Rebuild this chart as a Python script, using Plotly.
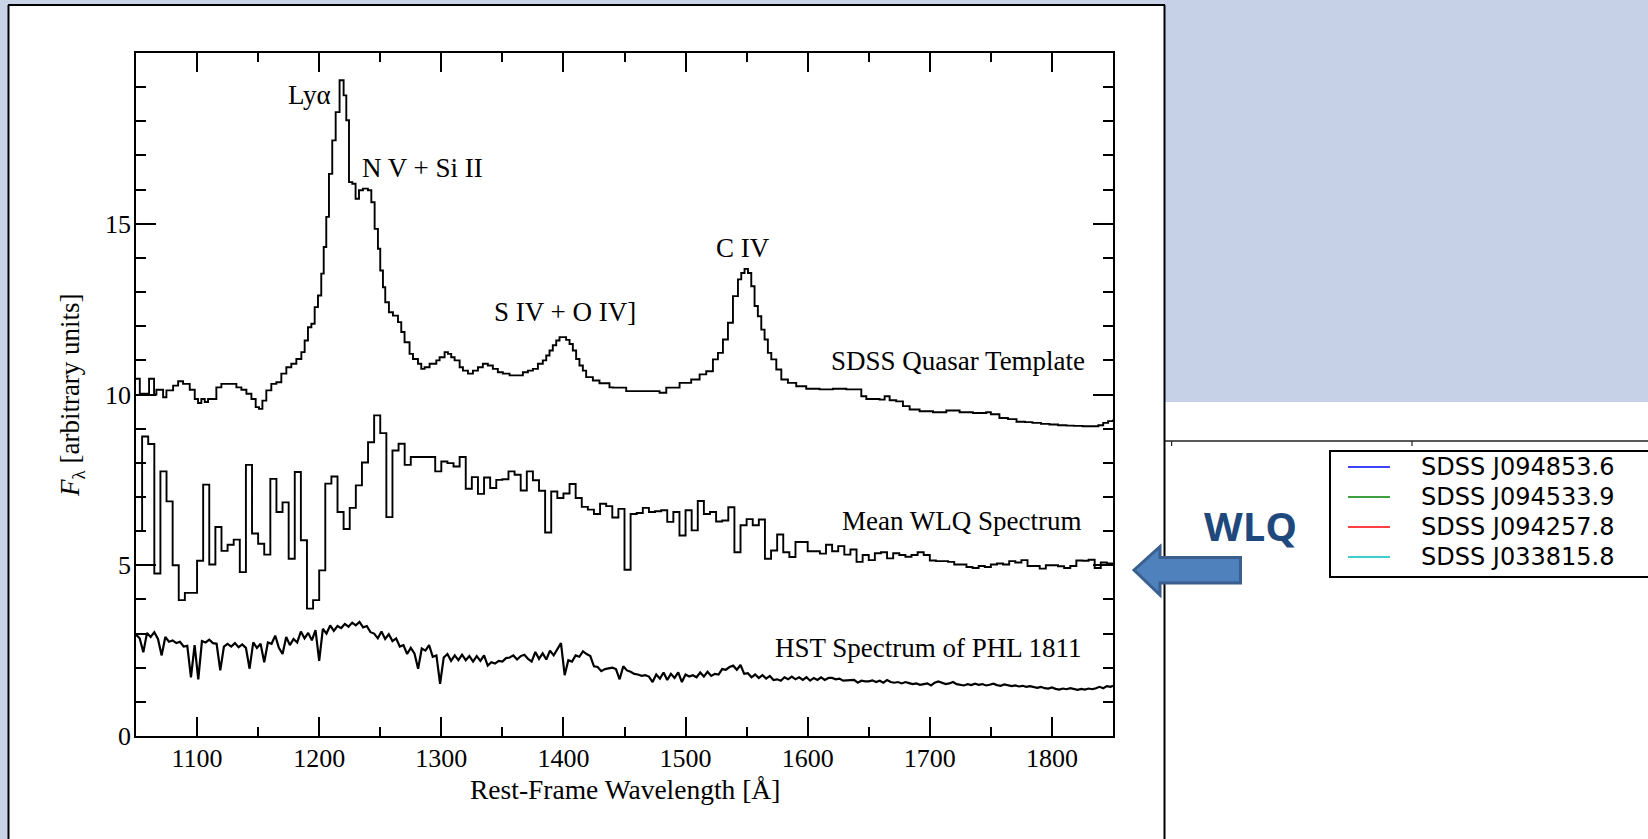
import plotly.graph_objects as go

# ---------------- data ----------------
template_wavelength = [1050, 1053.1, 1060.7, 1064.8, 1066.7, 1072.2, 1074.9, 1080.4, 1084.5, 1088.5,
    1094.0, 1098.1, 1100.8, 1103.5, 1106.3, 1109.0, 1115.8, 1119.9, 1132.2, 1136.3,
    1140.4, 1144.5, 1148.0, 1150.7, 1153.5, 1156.7, 1160.8, 1164.9, 1169.0, 1173.1,
    1177.2, 1181.3, 1185.4, 1188.1, 1190.8, 1193.6, 1196.3, 1199.0, 1201.7, 1203.7,
    1205.8, 1208.0, 1210.7, 1213.5, 1216.7, 1220.0, 1222.2, 1224.4, 1227.1, 1229.8,
    1232.6, 1235.8, 1239.9, 1242.7, 1245.4, 1248.1, 1250.0, 1252.2, 1254.1, 1257.1,
    1260.4, 1264.5, 1267.2, 1269.9, 1274.0, 1276.8, 1280.9, 1283.6, 1286.3, 1290.4,
    1295.9, 1298.6, 1302.7, 1305.4, 1308.1, 1310.9, 1315.0, 1317.7, 1321.8, 1325.9,
    1330.0, 1334.0, 1338.1, 1342.2, 1346.3, 1350.4, 1355.9, 1361.3, 1366.8, 1370.9,
    1375.0, 1379.1, 1383.1, 1385.9, 1388.6, 1391.3, 1394.1, 1396.8, 1402.2, 1405.0,
    1407.7, 1410.4, 1413.1, 1415.9, 1418.6, 1424.1, 1429.5, 1437.7, 1440.5, 1451.4,
    1465.1, 1478.7, 1484.2, 1495.1, 1504.6, 1511.5, 1516.9, 1522.4, 1526.5, 1530.6,
    1534.7, 1538.8, 1542.9, 1545.6, 1548.3, 1551.1, 1553.8, 1556.5, 1559.2, 1562.0,
    1564.7, 1567.4, 1570.2, 1574.3, 1578.4, 1583.8, 1590.6, 1598.8, 1609.7, 1620.7,
    1631.6, 1643.9, 1648.0, 1658.9, 1663.0, 1667.1, 1672.5, 1678.0, 1683.5, 1691.6,
    1702.6, 1713.5, 1724.4, 1735.3, 1746.2, 1750.0, 1757.0, 1764.0, 1771.0, 1778.0,
    1784.0, 1791.0, 1798.0, 1805.0, 1812.0, 1818.0, 1825.0, 1833.0, 1838.0, 1842.0,
    1846.0, 1850.0]
template_flux = [10.46, 10.02, 10.46, 10.0, 10.14, 9.92, 10.12, 10.26, 10.39, 10.31,
    10.14, 9.87, 9.75, 9.87, 9.78, 9.87, 10.21, 10.31, 10.21, 10.14,
    10.02, 9.87, 9.63, 9.58, 9.82, 10.12, 10.31, 10.36, 10.61, 10.8,
    10.9, 11.04, 11.24, 11.58, 11.97, 12.07, 12.56, 12.9, 13.54, 14.32,
    15.2, 16.46, 17.44, 18.27, 19.2, 18.76, 18.03, 16.22, 16.17, 15.73,
    15.98, 16.03, 15.98, 15.63, 14.85, 14.27, 13.63, 13.14, 12.7, 12.41,
    12.31, 12.12, 11.83, 11.53, 11.19, 11.04, 10.9, 10.75, 10.8, 10.9,
    11.0, 11.09, 11.24, 11.19, 11.09, 11.0, 10.8, 10.7, 10.61, 10.7,
    10.8, 10.9, 10.85, 10.75, 10.65, 10.61, 10.56, 10.56, 10.65, 10.7,
    10.75, 10.9, 11.0, 11.14, 11.29, 11.44, 11.58, 11.68, 11.6, 11.48,
    11.29, 11.04, 10.85, 10.7, 10.51, 10.41, 10.33, 10.21, 10.2, 10.1,
    10.1, 10.05, 10.2, 10.34, 10.44, 10.59, 10.68, 11.03, 11.22, 11.61,
    12.1, 12.88, 13.37, 13.56, 13.68, 13.56, 13.17, 12.59, 12.29, 11.9,
    11.61, 11.22, 11.03, 10.73, 10.44, 10.34, 10.24, 10.17, 10.15, 10.17,
    10.15, 9.95, 9.87, 9.85, 9.95, 9.83, 9.8, 9.66, 9.56, 9.51,
    9.48, 9.53, 9.48, 9.46, 9.48, 9.42, 9.31, 9.28, 9.2, 9.19,
    9.17, 9.14, 9.12, 9.1, 9.09, 9.08, 9.07, 9.07, 9.1, 9.17,
    9.22, 9.27]

# Mean WLQ spectrum: 5 A bins starting at 1050
wlq_bin_start = list(range(1050, 1850, 5))
wlq_flux = [6.0, 8.77, 8.55, 4.76, 7.75, 6.87, 5.0, 3.98, 4.19, 4.19,
    5.13, 7.36, 5.02, 6.12, 5.42, 5.6, 5.75, 4.8, 7.94, 5.93,
    5.63, 5.31, 7.53, 6.56, 6.84, 5.19, 7.73, 5.73, 3.73, 3.98,
    4.85, 7.39, 7.6, 6.56, 6.06, 6.68, 7.34, 8.01, 8.6, 9.39,
    8.87, 6.41, 8.36, 8.56, 7.94, 8.17, 8.17, 8.17, 8.17, 7.75,
    8.04, 7.99, 7.89, 8.17, 7.24, 7.58, 7.09, 7.57, 7.26, 7.5,
    7.52, 7.75, 7.65, 7.19, 7.75, 7.49, 7.18, 5.96, 7.16, 6.97,
    7.1, 7.38, 6.97, 6.71, 6.63, 6.5, 6.8, 6.73, 6.4, 6.65,
    4.87, 6.5, 6.53, 6.68, 6.56, 6.58, 6.61, 6.27, 6.56, 5.87,
    6.61, 6.02, 6.88, 6.5, 6.56, 6.28, 6.31, 6.7, 5.38, 6.17,
    6.35, 6.17, 6.34, 5.19, 5.43, 5.9, 5.38, 5.24, 5.68, 5.68,
    5.41, 5.41, 5.34, 5.6, 5.41, 5.56, 5.31, 5.46, 5.1, 5.3,
    5.15, 5.35, 5.38, 5.2, 5.35, 5.3, 5.25, 5.3, 5.38, 5.3,
    5.14, 5.12, 5.12, 5.1, 5.02, 5.02, 4.95, 4.92, 4.98, 4.95,
    5.02, 5.05, 5.02, 5.12, 5.08, 5.15, 4.98, 4.98, 4.9, 5.0,
    5.0, 4.97, 4.92, 4.98, 5.14, 5.13, 5.16, 4.92, 5.08, 5.05]

# HST spectrum of PHL 1811 (3 A sampling)
hst_wavelength = list(range(1050, 1850, 3)) + [1850]
hst_flux = [2.97, 2.86, 2.45, 3.02, 2.90, 3.04, 2.84, 2.36, 2.90, 2.76,
    2.80, 2.72, 2.76, 2.62, 2.64, 1.72, 2.66, 1.66, 2.78, 2.74,
    2.82, 2.72, 2.70, 1.92, 2.62, 2.70, 2.62, 2.72, 2.60, 2.68,
    2.58, 1.97, 2.74, 2.58, 2.70, 2.16, 2.74, 2.70, 2.94, 2.58,
    2.40, 2.90, 2.66, 2.84, 2.74, 3.06, 2.86, 3.02, 2.80, 3.10,
    2.20, 3.14, 3.00, 3.24, 3.08, 3.22, 3.16, 3.28, 3.20, 3.32,
    3.24, 3.34, 3.18, 3.22, 3.04, 3.00, 2.86, 3.06, 2.84, 2.98,
    2.78, 2.86, 2.62, 2.66, 2.40, 2.58, 2.42, 1.97, 2.56, 2.50,
    2.66, 2.32, 2.36, 1.53, 2.30, 2.40, 2.20, 2.36, 2.22, 2.38,
    2.22, 2.34, 2.18, 2.34, 2.20, 2.36, 2.06, 2.16, 2.12, 2.20,
    2.18, 2.28, 2.30, 2.36, 2.24, 2.34, 2.38, 2.26, 2.18, 2.46,
    2.26, 2.42, 2.24, 2.50, 2.36, 2.56, 2.72, 1.78, 2.22, 2.18,
    2.36, 2.32, 2.48, 2.40, 2.34, 2.04, 2.02, 1.90, 1.96, 1.98,
    2.00, 1.96, 1.66, 2.04, 1.92, 1.88, 1.82, 1.80, 1.76, 1.78,
    1.74, 1.58, 1.80, 1.68, 1.86, 1.64, 1.82, 1.70, 1.86, 1.58,
    1.80, 1.74, 1.78, 1.72, 1.86, 1.74, 1.88, 1.76, 1.82, 1.80,
    1.96, 1.94, 2.02, 2.06, 1.94, 2.08, 1.82, 1.84, 1.72, 1.80,
    1.70, 1.78, 1.68, 1.76, 1.64, 1.66, 1.62, 1.72, 1.66, 1.74,
    1.66, 1.72, 1.64, 1.72, 1.62, 1.70, 1.64, 1.72, 1.64, 1.70,
    1.70, 1.66, 1.68, 1.62, 1.62, 1.64, 1.64, 1.56, 1.62, 1.60,
    1.60, 1.63, 1.58, 1.62, 1.56, 1.64, 1.58, 1.56, 1.58, 1.54,
    1.58, 1.55, 1.52, 1.54, 1.50, 1.52, 1.54, 1.48, 1.56, 1.60,
    1.56, 1.52, 1.54, 1.58, 1.52, 1.50, 1.48, 1.52, 1.49, 1.53,
    1.50, 1.52, 1.48, 1.50, 1.53, 1.49, 1.47, 1.51, 1.49, 1.46,
    1.48, 1.45, 1.47, 1.44, 1.46, 1.43, 1.41, 1.44, 1.40, 1.39,
    1.42, 1.38, 1.36, 1.39, 1.37, 1.40, 1.37, 1.35, 1.38, 1.36,
    1.39, 1.37, 1.40, 1.44, 1.40, 1.46, 1.44, 1.47]

x_tick_values = [1100, 1200, 1300, 1400, 1500, 1600, 1700, 1800]
y_tick_values = [0, 5, 10, 15]

line_labels = ["Lyα", "N V + Si II", "S IV + O IV]", "C IV"]
line_label_x = [1191.7, 1284.7, 1401.4, 1546.8]
line_label_y = [18.78, 16.64, 12.41, 14.3]

series_labels = ["SDSS Quasar Template", "Mean WLQ Spectrum", "HST Spectrum of PHL 1811"]
series_label_x = [1723.3, 1725.7, 1698.7]
series_label_y = [10.98, 6.31, 2.59]

legend_names = ["SDSS J094853.6", "SDSS J094533.9", "SDSS J094257.8", "SDSS J033815.8"]
legend_colors = ["#0000ff", "#008000", "#ff0000", "#00bfbf"]

# ---------------- figure ----------------
W, H = 1648, 839
ML, MR, MT, MB = 136, 535, 53, 103
PW, PH = W - ML - MR, H - MT - MB


def px(x):
    return (x - ML) / PW


def py(y):
    return (H - MB - y) / PH


SERIF = "Liberation Serif, Times New Roman, serif"

fig = go.Figure()

fig.add_trace(go.Scatter(x=template_wavelength, y=template_flux, mode="lines",
                         line=dict(color="black", width=1.9, shape="hv"), hoverinfo="skip"))
fig.add_trace(go.Scatter(x=wlq_bin_start + [1850], y=wlq_flux + [wlq_flux[-1]], mode="lines",
                         line=dict(color="black", width=1.9, shape="hv"), hoverinfo="skip"))
fig.add_trace(go.Scatter(x=hst_wavelength, y=hst_flux, mode="lines",
                         line=dict(color="black", width=2.2), hoverinfo="skip"))

annotations = []
for t, x, y in zip(line_labels + series_labels, line_label_x + series_label_x,
                   line_label_y + series_label_y):
    annotations.append(dict(x=x, y=y, xref="x", yref="y", text=t, showarrow=False,
                            font=dict(family=SERIF, size=27, color="black"),
                            xanchor="center", yanchor="middle"))

# axis titles
annotations.append(dict(x=px(624.5), y=py(789), xref="paper", yref="paper",
                        text="Rest-Frame Wavelength [Å]", showarrow=False,
                        font=dict(family=SERIF, size=27.5, color="black"),
                        xanchor="center", yanchor="middle"))
annotations.append(dict(x=px(72), y=py(395), xref="paper", yref="paper",
                        text="<i>F</i><sub>λ</sub> [arbitrary units]", showarrow=False,
                        textangle=-90,
                        font=dict(family=SERIF, size=27, color="black"),
                        xanchor="center", yanchor="middle"))

# WLQ label
annotations.append(dict(x=px(1250), y=py(525), xref="paper", yref="paper", text="<b>WLQ</b>",
                        showarrow=False, font=dict(family="Open Sans", size=40, color="#1f497d"),
                        xanchor="center", yanchor="middle"))

# legend panel texts (fragment of neighbouring figure)
for i, name in enumerate(legend_names):
    annotations.append(dict(x=px(1419), y=py(467 + 30 * i), xref="paper", yref="paper", text=name,
                            showarrow=False, font=dict(family="DejaVu Sans", size=24, color="black"),
                            xanchor="left", yanchor="middle"))

shapes = []
slide_bg = "#c9d3e8"
# slide background strips
shapes.append(dict(type="rect", xref="paper", yref="paper", x0=px(0), x1=px(8), y0=py(839), y1=py(0),
                   fillcolor=slide_bg, line=dict(width=0), layer="below"))
shapes.append(dict(type="rect", xref="paper", yref="paper", x0=px(0), x1=px(1648), y0=py(5), y1=py(0),
                   fillcolor=slide_bg, line=dict(width=0), layer="below"))
shapes.append(dict(type="rect", xref="paper", yref="paper", x0=px(1165), x1=px(1648), y0=py(402), y1=py(0),
                   fillcolor="#c6d1e8", line=dict(width=0), layer="below"))
# white box border
for (x0, y0, x1, y1) in [(8, 5, 1165, 5), (8.5, 5, 8.5, 839), (1164.5, 5, 1164.5, 839)]:
    shapes.append(dict(type="line", xref="paper", yref="paper", x0=px(x0), y0=py(y0), x1=px(x1), y1=py(y1),
                       line=dict(color="black", width=2)))
# neighbouring axis line and ticks
shapes.append(dict(type="line", xref="paper", yref="paper", x0=px(1165), y0=py(441), x1=px(1648), y1=py(441),
                   line=dict(color="#222222", width=1.5)))
for tx in [1171.6, 1412]:
    shapes.append(dict(type="line", xref="paper", yref="paper", x0=px(tx), y0=py(441), x1=px(tx), y1=py(446),
                       line=dict(color="#222222", width=1.2)))
# legend box
shapes.append(dict(type="rect", xref="paper", yref="paper", x0=px(1330), x1=px(1660), y0=py(577), y1=py(451),
                   line=dict(color="black", width=2), fillcolor="white"))
for i, c in enumerate(legend_colors):
    yy = 467 + 30 * i
    shapes.append(dict(type="line", xref="paper", yref="paper", x0=px(1348), x1=px(1390), y0=py(yy), y1=py(yy),
                       line=dict(color=c, width=1.5)))
# arrow
pts = [(1134, 570), (1160, 546.5), (1160, 557.5), (1240.5, 557.5), (1240.5, 583), (1160, 583), (1160, 595)]
path = "M " + " L ".join(f"{px(a):.5f},{py(b):.5f}" for a, b in pts) + " Z"
shapes.append(dict(type="path", xref="paper", yref="paper", path=path, fillcolor="#4f81bd",
                   line=dict(color="#3a5f8f", width=3)))

axis_common = dict(showline=True, linecolor="black", linewidth=1.6, mirror="ticks", ticks="inside",
                   tickcolor="black", tickwidth=1.5, showgrid=False, zeroline=False,
                   tickfont=dict(family=SERIF, size=26, color="black"))

fig.update_layout(
    width=W, height=H, margin=dict(l=ML, r=MR, t=MT, b=MB, pad=0),
    paper_bgcolor="white", plot_bgcolor="white", showlegend=False,
    xaxis=dict(range=[1050, 1850], tickvals=x_tick_values, ticklen=19, ticklabelstandoff=-2,
               minor=dict(ticks="inside", dtick=50, tick0=1050, ticklen=9, tickwidth=1.5, tickcolor="black",
                          showgrid=False),
               **axis_common),
    yaxis=dict(range=[0, 20], tickvals=y_tick_values, ticklen=20, ticklabelstandoff=-2,
               minor=dict(ticks="inside", dtick=1, tick0=0, ticklen=10, tickwidth=1.5, tickcolor="black",
                          showgrid=False),
               **axis_common),
    annotations=annotations, shapes=shapes,
)

fig.write_html("out.html")
